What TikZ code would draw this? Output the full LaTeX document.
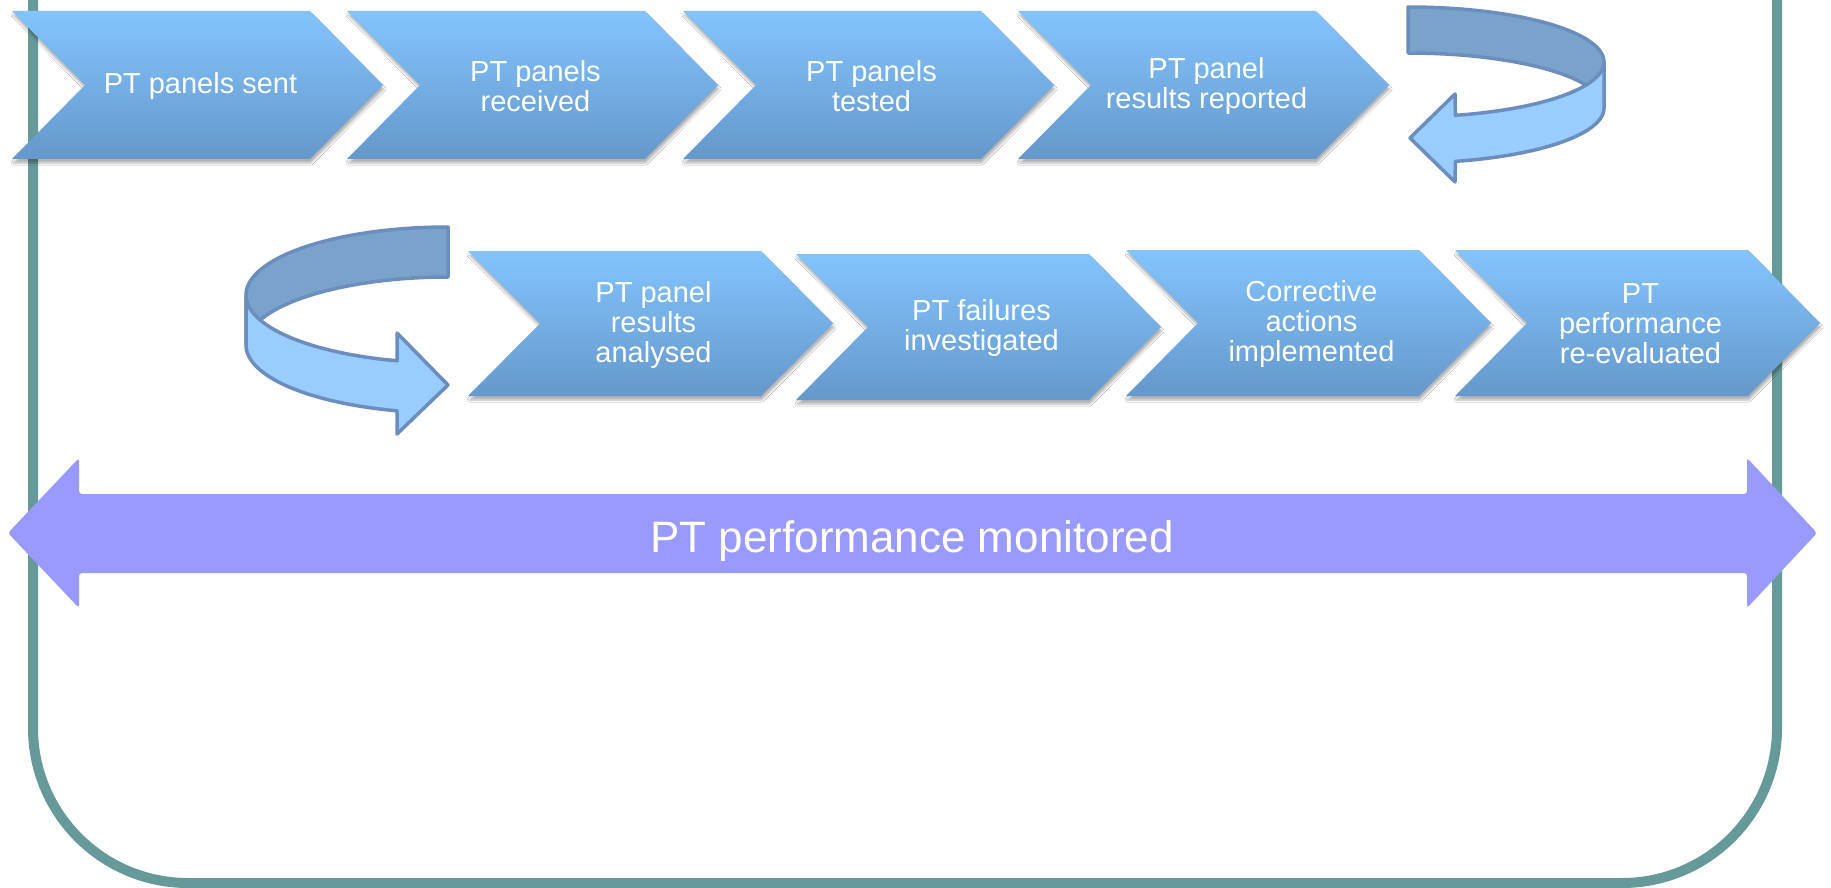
\documentclass[tikz,border=0pt]{standalone}
\usepackage{fontspec}
\setmainfont{Liberation Sans}
\usetikzlibrary{shadows.blur}
\definecolor{frameteal}{RGB}{102,153,153}
\definecolor{chevtop}{RGB}{131,196,253}
\definecolor{chevbot}{RGB}{101,152,203}
\definecolor{uline}{RGB}{108,142,191}
\definecolor{uback}{RGB}{122,163,203}
\definecolor{ufront}{RGB}{153,204,255}
\definecolor{bigarrow}{RGB}{153,153,255}
\tikzset{
  chev/.style={top color=chevtop, bottom color=chevbot, draw=none,
    blur shadow={shadow xshift=1pt, shadow yshift=-4pt, shadow opacity=30, shadow blur steps=6}},
  chevtext/.style={text=white, align=center, inner sep=0pt, font=\fontsize{29}{30}\selectfont},
  uturnback/.style={fill=uback, draw=uline, line width=3.5pt, line join=round},
  uturnfront/.style={fill=ufront, draw=uline, line width=3.5pt, line join=round},
  frameline/.style={draw=frameteal, line width=10pt, rounded corners=155pt},
  bigarrowstyle/.style={fill=bigarrow, draw=none, rounded corners=3pt},
}
\newcommand{\chevshape}[7]{% name, L, W, D, top, bottom, text
  \pgfmathsetmacro{\chevmid}{(#5+#6)/2}
  \path[chev] (#2,#5) -- ({#2+#3},#5) -- ({#2+#3+#4},\chevmid) -- ({#2+#3},#6) -- (#2,#6) -- ({#2+#4},\chevmid) -- cycle;
  \node[chevtext] (#1) at ({#2+(#3+#4)/2+3},{\chevmid+1}) {#7};
}
\begin{document}
\begin{tikzpicture}[x=1pt,y=-1pt]
\useasboundingbox (0,0) rectangle (1831,888);
\clip (0,0) rectangle (1831,888);
\fill[white] (0,0) rectangle (1831,888);
% frame
\draw[frameline] (33,-30) -- (33,883) -- (1777,883) -- (1777,-30);
% row 1 chevrons
\chevshape{c1}{12}{298}{73}{11}{159}{PT panels sent}
\chevshape{c2}{347}{298}{73}{11}{159}{PT panels\\received}
\chevshape{c3}{683}{298}{73}{11}{159}{PT panels\\tested}
\chevshape{c4}{1018}{298}{73}{11}{159}{PT panel\\results reported}
% row 2 chevrons
\chevshape{c5}{468}{293}{72}{251}{396}{PT panel\\results\\analysed}
\chevshape{c6}{796}{293}{72}{254}{400}{PT failures\\investigated}
\chevshape{c7}{1126}{293}{72}{250}{396}{Corrective\\actions\\implemented}
\chevshape{c8}{1455}{293}{72}{250}{396}{PT\\performance\\re-evaluated}
% U-turn arrow A (top right)
\path[uturnback] plot[domain=-90:0, samples=40] ({1408+196*cos(\x)},{62+55*sin(\x)})
  -- plot[domain=0:-90, samples=40] ({1408+196*cos(\x)},{108+55*sin(\x)}) -- cycle;
\path[uturnfront] plot[domain=0:76, samples=40] ({1408+196*cos(\x)},{62+55*sin(\x)})
  -- (1455,94) -- (1410,138) -- (1455,182)
  -- plot[domain=76:0, samples=40] ({1408+196*cos(\x)},{108+55*sin(\x)}) -- cycle;
% U-turn arrow B (left, row 2)
\path[uturnback] plot[domain=-90:-180, samples=40] ({448+202*cos(\x)},{295+68*sin(\x)})
  -- plot[domain=-180:-90, samples=40] ({448+202*cos(\x)},{345+68*sin(\x)}) -- cycle;
\path[uturnfront] plot[domain=180:104.6, samples=40] ({448+202*cos(\x)},{295+68*sin(\x)})
  -- (397,333) -- (448,385) -- (397,434)
  -- plot[domain=104.6:180, samples=40] ({448+202*cos(\x)},{345+68*sin(\x)}) -- cycle;
% big double arrow
\path[bigarrowstyle] (8,533) -- (79,458) -- (79,494) -- (1747,494) -- (1747,458) -- (1817,533)
  -- (1747,608) -- (1747,573) -- (79,573) -- (79,608) -- cycle;
\node[text=white, inner sep=0pt, anchor=base, font=\fontsize{44}{48}\selectfont] (mon) at (912,552) {PT performance monitored};
\end{tikzpicture}
\end{document}
